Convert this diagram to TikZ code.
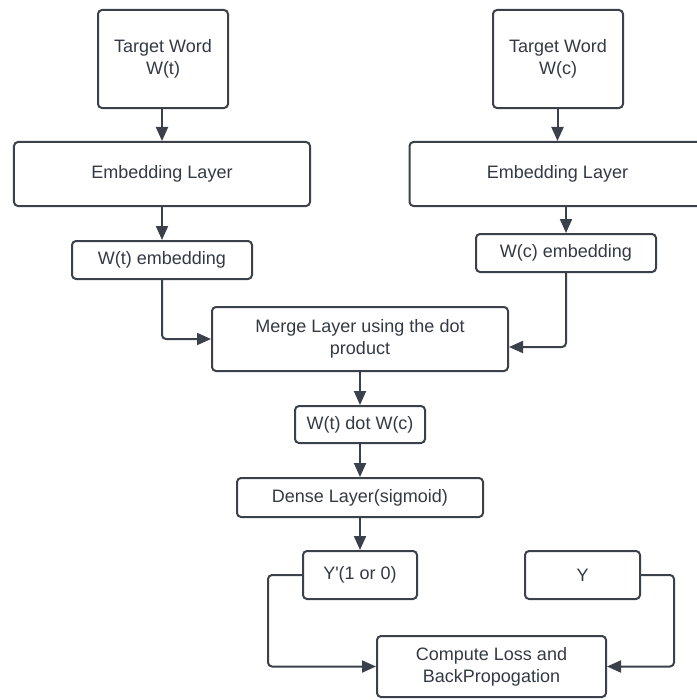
\documentclass[tikz,border=0pt]{standalone}
\usepackage{fontspec}
% own family without TeX ligature mapping, so ' stays a straight apostrophe
\newfontfamily\lsans{Liberation Sans}
\usetikzlibrary{arrows.meta,calc}
\definecolor{ink}{HTML}{3A414A}
\definecolor{txt}{HTML}{333A45}
\tikzset{
  box/.style={draw=ink, line width=2bp, rounded corners=4bp, inner sep=0pt,
    align=center, text=txt, font=\lsans\fontsize{18bp}{22bp}\selectfont},
  arr/.style={draw=ink, line width=2bp, rounded corners=4bp,
    -{Triangle[width=12bp,length=14bp]}}
}
\begin{document}
\begin{tikzpicture}[x=1bp,y=-1bp]
\useasboundingbox (0,0) rectangle (697,700);
\clip (0,0) rectangle (697,700);
\fill[white] (0,0) rectangle (697,700);

% input words
\node[box, minimum width=130bp, minimum height=98bp] (tw) at (163,59) {Target Word\\W(t)};
\node[box, minimum width=130bp, minimum height=98bp] (tc) at (558,59) {Target Word\\W(c)};

% embedding layers (the right one runs past the page edge)
\node[box, minimum width=296bp, minimum height=64bp] (el) at (162,174) {Embedding Layer};
\node[box, minimum width=296bp, minimum height=64bp] (er) at (557.5,174) {Embedding Layer};

% embeddings
\node[box, minimum width=180bp, minimum height=38bp] (wte) at (162,260) {W(t) embedding};
\node[box, minimum width=180bp, minimum height=38bp] (wce) at (566,253) {W(c) embedding};

% merge and downstream
\node[box, minimum width=296bp, minimum height=64bp] (merge) at (360,339) {Merge Layer using the dot\\product};
\node[box, minimum width=130bp, minimum height=37bp] (dot) at (360,424.5) {W(t) dot W(c)};
\node[box, minimum width=246bp, minimum height=39bp] (dense) at (360,497.5) {Dense Layer(sigmoid)};
\node[box, minimum width=114bp, minimum height=48bp] (yp) at (360,575) {Y'(1 or 0)};
\node[box, minimum width=115bp, minimum height=48bp] (y) at (582.5,575) {Y};
\node[box, minimum width=229bp, minimum height=61bp] (loss) at (491.5,666.5) {Compute Loss and\\BackPropogation};

% connectors
\draw[arr] (el.north |- tw.south) -- (el.north);
\draw[arr] (er.north |- tc.south) -- (er.north);
\draw[arr] (el.south) -- (wte.north);
\draw[arr] (wce.north |- er.south) -- (wce.north);
\draw[arr] (wte.south) |- (merge.west);
\draw[arr] (wce.south) |- ($(merge.east)+(0,8)$);
\draw[arr] (merge.south) -- (dot.north);
\draw[arr] (dot.south) -- (dense.north);
\draw[arr] (dense.south) -- (yp.north);
\draw[arr] (yp.west) -- ++(-34,0) |- (loss.west);
\draw[arr] (y.east) -- ++(33,0) |- (loss.east);
\end{tikzpicture}
\end{document}
